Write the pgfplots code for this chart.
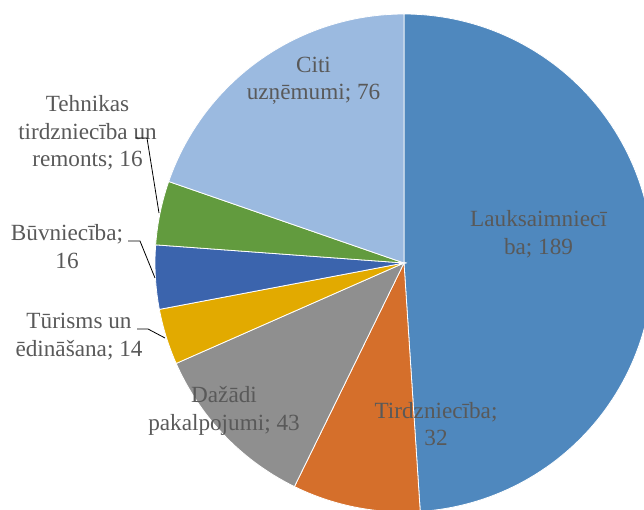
\documentclass[border=0pt]{standalone}
\usepackage{fontspec}
\setmainfont{Liberation Serif}
\usepackage{pgfplots}
\usepackage{pgfplotstable}
\pgfplotsset{compat=1.18}
\definecolor{cA}{HTML}{4F88BE}
\definecolor{cB}{HTML}{D56F2B}
\definecolor{cC}{HTML}{8F8F8F}
\definecolor{cD}{HTML}{E2AA00}
\definecolor{cE}{HTML}{3B64AD}
\definecolor{cF}{HTML}{629B3E}
\definecolor{cG}{HTML}{9BBAE0}
\definecolor{txt}{HTML}{595959}
\tikzset{lbl/.style={font=\fontsize{23.2}{27.5}\selectfont, text=txt, align=center, inner sep=0pt}}
\pgfplotstableread{
idx value
0 189
1 32
2 43
3 14
4 16
5 16
6 76
}\piedata
\begin{document}
\begin{tikzpicture}
% cumulative angles from the data (clockwise from 90 deg)
\pgfplotstablegetelem{0}{value}\of\piedata\let\va\pgfplotsretval
\pgfplotstablegetelem{1}{value}\of\piedata\let\vb\pgfplotsretval
\pgfplotstablegetelem{2}{value}\of\piedata\let\vc\pgfplotsretval
\pgfplotstablegetelem{3}{value}\of\piedata\let\vd\pgfplotsretval
\pgfplotstablegetelem{4}{value}\of\piedata\let\ve\pgfplotsretval
\pgfplotstablegetelem{5}{value}\of\piedata\let\vf\pgfplotsretval
\pgfplotstablegetelem{6}{value}\of\piedata\let\vg\pgfplotsretval
\pgfmathsetmacro{\tot}{\va+\vb+\vc+\vd+\ve+\vf+\vg}
\pgfmathsetmacro{\aA}{90}
\pgfmathsetmacro{\aB}{\aA-360*(\va/\tot)}
\pgfmathsetmacro{\aC}{\aB-360*(\vb/\tot)}
\pgfmathsetmacro{\aD}{\aC-360*(\vc/\tot)}
\pgfmathsetmacro{\aE}{\aD-360*(\vd/\tot)}
\pgfmathsetmacro{\aF}{\aE-360*(\ve/\tot)}
\pgfmathsetmacro{\aG}{\aF-360*(\vf/\tot)}
\pgfmathsetmacro{\aH}{\aG-360*(\vg/\tot)}
\def\R{249}
\begin{axis}[
  width=644pt, height=510pt, scale only axis,
  xmin=-404, xmax=240, ymin=-247, ymax=263,
  hide axis, clip=true,
]
\addplot[fill=cA, draw=white, line width=0.8pt, domain=\aB:\aA, samples=120] ({\R*cos(x)},{\R*sin(x)}) -- (axis cs:0,0) -- cycle;
\addplot[fill=cB, draw=white, line width=0.8pt, domain=\aC:\aB, samples=30] ({\R*cos(x)},{\R*sin(x)}) -- (axis cs:0,0) -- cycle;
\addplot[fill=cC, draw=white, line width=0.8pt, domain=\aD:\aC, samples=30] ({\R*cos(x)},{\R*sin(x)}) -- (axis cs:0,0) -- cycle;
\addplot[fill=cD, draw=white, line width=0.8pt, domain=\aE:\aD, samples=20] ({\R*cos(x)},{\R*sin(x)}) -- (axis cs:0,0) -- cycle;
\addplot[fill=cE, draw=white, line width=0.8pt, domain=\aF:\aE, samples=20] ({\R*cos(x)},{\R*sin(x)}) -- (axis cs:0,0) -- cycle;
\addplot[fill=cF, draw=white, line width=0.8pt, domain=\aG:\aF, samples=20] ({\R*cos(x)},{\R*sin(x)}) -- (axis cs:0,0) -- cycle;
\addplot[fill=cG, draw=white, line width=0.8pt, domain=\aH:\aG, samples=60] ({\R*cos(x)},{\R*sin(x)}) -- (axis cs:0,0) -- cycle;
% labels
\node[lbl] at (axis cs:134.5,29) {Lauksaimniecī\\ba; 189};
\node[lbl] at (axis cs:32,-161) {Tirdzniecība;\\32};
\node[lbl] at (axis cs:-180,-148) {Dažādi\\pakalpojumi; 43};
\node[lbl] at (axis cs:-325,-73.5) {Tūrisms un\\ēdināšana; 14};
\node[lbl] at (axis cs:-337,16.5) {Būvniecība;\\16};
\node[lbl] at (axis cs:-316.5,130) {Tehnikas\\tirdzniecība un\\remonts; 16};
\node[lbl] at (axis cs:-90.5,182) {Citi\\uzņēmumi; 76};
% leader lines
\draw[black, line width=0.8pt] (axis cs:-269,125) -- (axis cs:-257,125) -- (axis cs:-245,50);
\draw[black, line width=0.8pt] (axis cs:-276,22) -- (axis cs:-264,22) -- (axis cs:-249,-15);
\draw[black, line width=0.8pt] (axis cs:-267,-66) -- (axis cs:-256,-66) -- (axis cs:-239,-75);
\end{axis}
\pgfresetboundingbox
\path (current axis.south west) rectangle (current axis.north east);
\end{tikzpicture}
\end{document}
